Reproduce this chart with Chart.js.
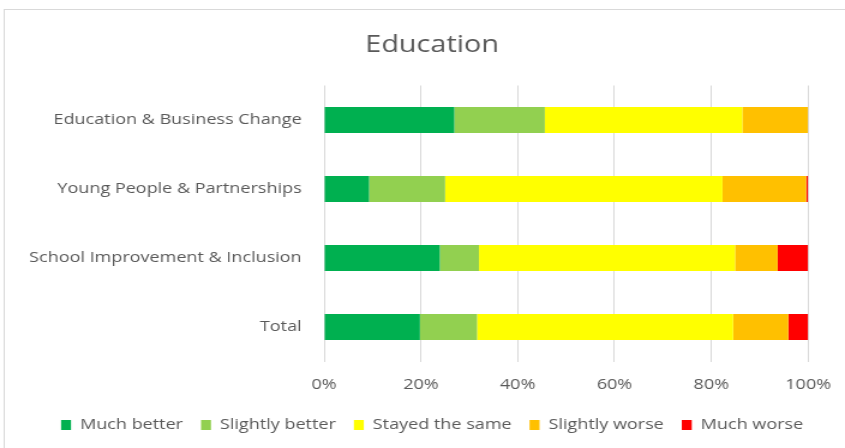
<!DOCTYPE html>
<html>
<head>
<meta charset="utf-8">
<script src="https://cdn.jsdelivr.net/npm/chart.js@4.4.1/dist/chart.umd.min.js"></script>
<style>
  html, body { margin: 0; padding: 0; background: #fff; overflow: hidden; }
  #myChart { display: block; }
</style>
</head>
<body>
<!-- the source picture is a screenshot stretched sideways, so draw at 704 px and show at 845 px -->
<canvas id="myChart" width="704" height="448" style="width:845px;height:448px"></canvas>
<script>
// categories and series (percent of respondents)
const categories = ['Education & Business Change', 'Young People & Partnerships', 'School Improvement & Inclusion', 'Total'];
const muchBetter     = [26.9, 9.3, 23.9, 19.8];
const slightlyBetter = [18.7, 15.7, 8.1, 11.8];
const stayedSame     = [40.8, 57.3, 52.9, 52.9];
const slightlyWorse  = [13.6, 17.3, 8.8, 11.4];
const muchWorse      = [0, 0.4, 6.3, 4.1];
const xTicks = [0, 20, 40, 60, 80, 100];

const seriesNames = ['Much better', 'Slightly better', 'Stayed the same', 'Slightly worse', 'Much worse'];
const seriesColors = ['#00B050', '#92D050', '#FFFF00', '#FFC000', '#FF0000'];
const seriesData = [muchBetter, slightlyBetter, stayedSame, slightlyWorse, muchWorse];

const txt = '#595959';
const fontFam = '"Open Sans", "DejaVu Sans", sans-serif';

// light frame round the chart area, like Excel's (right edge runs off the picture)
const framePlugin = {
  id: 'frame',
  beforeDraw(chart) {
    const c = chart.ctx;
    c.save();
    c.strokeStyle = '#d9d9d9';
    c.lineWidth = 1;
    c.strokeRect(3.5, 9.5, 760, 460);
    c.restore();
  }
};

new Chart(document.getElementById('myChart'), {
  type: 'bar',
  data: {
    labels: categories,
    datasets: seriesData.map((d, i) => ({
      label: seriesNames[i],
      data: d,
      backgroundColor: seriesColors[i],
      borderWidth: 0,
      barPercentage: 1,
      categoryPercentage: 0.377
    }))
  },
  options: {
    indexAxis: 'y',
    responsive: false,
    animation: false,
    layout: { padding: { left: 16, right: 0, top: 10, bottom: 5.5 } },
    scales: {
      x: {
        stacked: true,
        min: 0,
        max: 100,
        afterBuildTicks(axis) { axis.ticks = xTicks.map(v => ({ value: v })); },
        afterFit(axis) {
          axis.height = 41;
          axis.paddingLeft = 0;
          axis.paddingRight = 0;
        },
        ticks: {
          color: txt,
          font: { family: fontFam, size: 15 },
          padding: 14.5,
          callback: v => v + '%'
        },
        grid: { color: '#d9d9d9', drawTicks: false },
        border: { display: false }
      },
      y: {
        stacked: true,
        afterFit(axis) { axis.width = 254; },
        ticks: {
          color: txt,
          font: { family: fontFam, size: 15 },
          padding: 10.7
        },
        grid: { display: false },
        border: { display: false }
      },
      // empty spacer on the right so the title and legend sit where Excel put them
      yRight: {
        type: 'category',
        position: 'right',
        afterFit(axis) { axis.width = 30.7; },
        ticks: { display: false },
        grid: { display: false },
        border: { display: false }
      }
    },
    plugins: {
      title: {
        display: true,
        text: 'Education',
        color: txt,
        font: { family: fontFam, size: 24, weight: 'normal' },
        padding: { top: 20.6, bottom: 26.1 }
      },
      legend: {
        position: 'bottom',
        labels: {
          color: txt,
          font: { family: fontFam, size: 15 },
          boxWidth: 8.3,
          boxHeight: 10,
          padding: 15
        }
      },
      tooltip: { enabled: false }
    }
  },
  plugins: [framePlugin]
});
</script>
</body>
</html>
